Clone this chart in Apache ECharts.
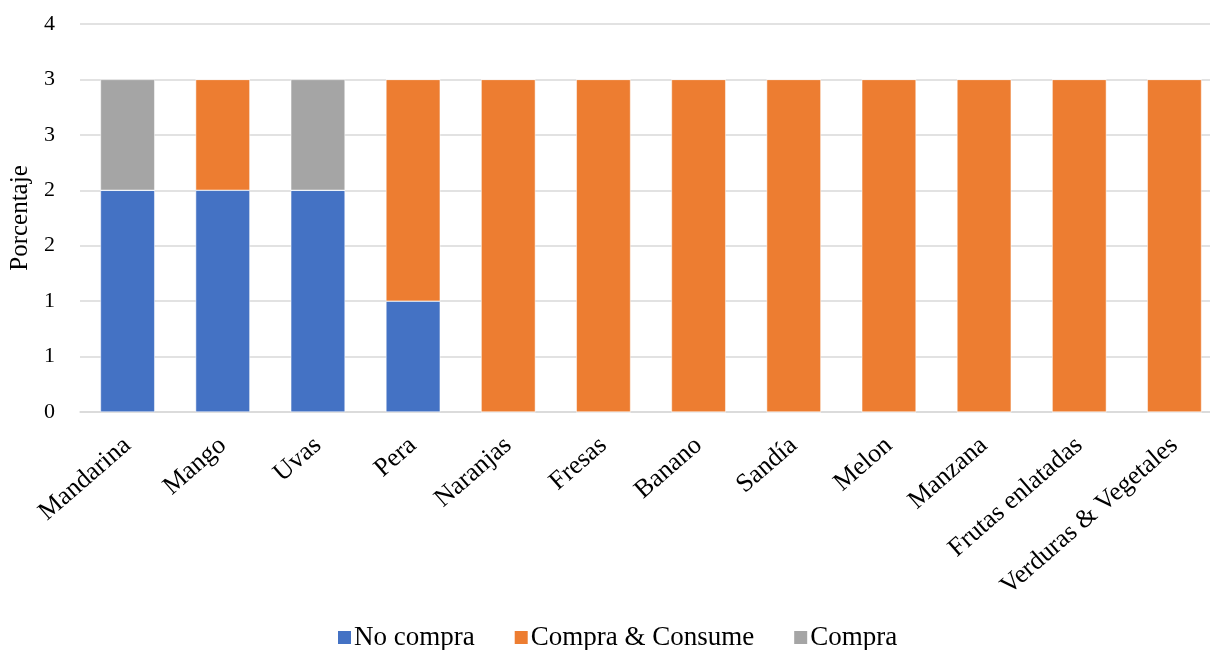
<!DOCTYPE html>
<html>
<head>
<meta charset="utf-8">
<script src="https://cdn.jsdelivr.net/npm/echarts@6/dist/echarts.min.js"></script>
<style>
  html, body { margin: 0; padding: 0; background: #fff; }
  #chart { width: 1210px; height: 650px; }
</style>
</head>
<body>
<div id="chart"></div>
<script>
// Products and the share of each purchase behaviour
const categories = ['Mandarina', 'Mango', 'Uvas', 'Pera', 'Naranjas', 'Fresas', 'Banano', 'Sandía', 'Melon', 'Manzana', 'Frutas enlatadas', 'Verduras & Vegetales'];
const noCompra = [2, 2, 2, 1, 0, 0, 0, 0, 0, 0, 0, 0];
const compraConsume = [0, 1, 0, 2, 3, 3, 3, 3, 3, 3, 3, 3];
const compra = [1, 0, 1, 0, 0, 0, 0, 0, 0, 0, 0, 0];
const seriesNames = ['No compra', 'Compra & Consume', 'Compra'];

const font = 'Liberation Serif, Times New Roman, serif';
const chart = echarts.init(document.getElementById('chart'));

function bar(name, data, color) {
  return {
    name, type: 'bar', stack: 'total', data,
    barWidth: '57%',
    itemStyle: { color, borderColor: '#fff', borderWidth: 0.5 },
    emphasis: { disabled: true }
  };
}

chart.setOption({
  animation: false,
  textStyle: { fontFamily: font },
  // plot area runs slightly past the right edge of the canvas
  grid: { left: 80, width: 1142, top: 24, height: 388, containLabel: false, outerBoundsMode: 'none' },
  legend: {
    top: 624, left: 336, padding: 0,
    itemWidth: 15, itemHeight: 15, itemGap: 38,
    icon: 'rect',
    textStyle: { fontFamily: font, fontSize: 27, color: '#000', padding: [0, 0, 0, -3] },
    data: seriesNames
  },
  xAxis: {
    type: 'category', data: categories,
    axisLine: { lineStyle: { color: '#d9d9d9', width: 1.5 } },
    axisTick: { show: false },
    axisLabel: { rotate: 41, fontFamily: font, fontSize: 26, color: '#000', margin: 30, interval: 0 }
  },
  yAxis: {
    type: 'value', min: 0, max: 3.5, interval: 0.5,
    name: 'Porcentaje', nameLocation: 'middle', nameGap: 44, nameRotate: 90,
    nameTextStyle: { fontFamily: font, fontSize: 25, color: '#000' },
    axisLine: { show: false }, axisTick: { show: false },
    splitLine: { lineStyle: { color: '#d9d9d9', width: 1.5 } },
    axisLabel: { fontFamily: font, fontSize: 22, color: '#000', margin: 25, formatter: v => String(Math.round(v)) }
  },
  series: [
    bar(seriesNames[0], noCompra, '#4472C4'),
    bar(seriesNames[1], compraConsume, '#ED7D31'),
    bar(seriesNames[2], compra, '#A5A5A5')
  ]
});
</script>
</body>
</html>
